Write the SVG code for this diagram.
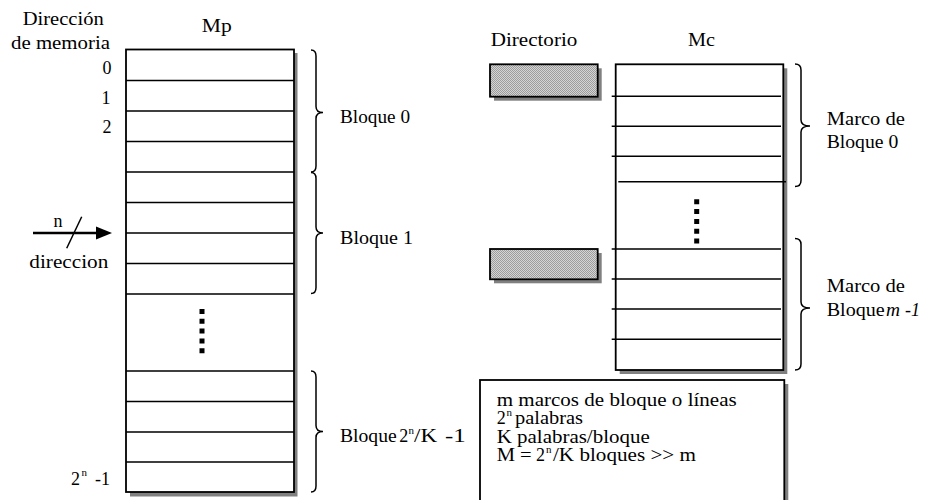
<svg xmlns="http://www.w3.org/2000/svg" width="932" height="500" viewBox="0 0 932 500">
<defs>
<pattern id="hatch" width="2" height="2" patternUnits="userSpaceOnUse">
<rect width="2" height="2" fill="#d4d4d4"/>
<rect width="1" height="1" fill="#9c9c9c"/>
<rect x="1" y="1" width="1" height="1" fill="#9c9c9c"/>
</pattern>
</defs>
<style>
text{font-family:'Liberation Serif','Times New Roman','DejaVu Serif',serif;font-size:18px;fill:#000}
.sup{font-size:11px}
.it{font-style:italic}
.box{fill:#fff;stroke:#000;stroke-width:1.8}
.shadow{fill:#808080;stroke:none}
.row{stroke:#000;stroke-width:1.5;fill:none}
.brace{stroke:#000;stroke-width:1.5;fill:none}
.dots{stroke:#000;stroke-width:5;stroke-dasharray:5 4.8;fill:none}
.dir{fill:url(#hatch);stroke:#000;stroke-width:1.8}
</style>
<rect width="932" height="500" fill="#fff"/>

<g id="addr-labels">
<text x="22.7" y="25" textLength="81" lengthAdjust="spacingAndGlyphs">Dirección</text>
<text x="11" y="49" textLength="99" lengthAdjust="spacingAndGlyphs">de memoria</text>
<text x="111.5" y="74" text-anchor="end">0</text>
<text x="110.5" y="103.5" text-anchor="end">1</text>
<text x="111.5" y="133" text-anchor="end">2</text>
<text y="484.5"><tspan x="71">2</tspan><tspan class="sup" x="81.5" y="476">n</tspan><tspan x="95" y="484.5" textLength="15" lengthAdjust="spacingAndGlyphs">-1</tspan></text>
</g>

<g id="mp">
<rect class="shadow" x="130" y="53" width="167.5" height="443.5"/>
<rect class="box" x="126" y="49.5" width="168" height="442.5"/>
<path class="row" d="M126 80.5H294M126 111H294M126 141.5H294M126 172H294M126 202.5H294M126 233H294M126 263.5H294M126 294H294M126 371H294M126 401.5H294M126 432H294M126 462H294"/>
<path class="dots" d="M202 309V354"/>
<text x="201.7" y="32" textLength="30" lengthAdjust="spacingAndGlyphs">Mp</text>
</g>

<g id="mp-blocks">
<path class="brace" d="M311 50Q316 50 316 56L316 106.5Q316 112.5 323 112.5Q316 112.5 316 118.5L316 166Q316 172 311 172"/>
<path class="brace" d="M311 172.5Q316 172.5 316 178.5L316 227Q316 233 323 233Q316 233 316 239L316 287.5Q316 293.5 311 293.5"/>
<path class="brace" d="M311 371Q316 371 316 377L316 425.5Q316 431.5 323 431.5Q316 431.5 316 437.5L316 486Q316 492 311 492"/>
<text x="340" y="123" textLength="70" lengthAdjust="spacingAndGlyphs">Bloque 0</text>
<text x="340" y="243.5" textLength="73" lengthAdjust="spacingAndGlyphs">Bloque 1</text>
<text y="442"><tspan x="340" textLength="56.7" lengthAdjust="spacingAndGlyphs">Bloque</tspan><tspan x="399.3">2</tspan><tspan class="sup" x="408.5" y="433.5">n</tspan><tspan x="414" y="442" textLength="23" lengthAdjust="spacingAndGlyphs">/K</tspan><tspan x="445" textLength="20.7" lengthAdjust="spacingAndGlyphs">-1</tspan></text>
</g>

<g id="connectors">
<line x1="33" y1="233" x2="99" y2="233" stroke="#000" stroke-width="2.5"/>
<polygon points="96,226.5 112,233 96,239.5" fill="#000"/>
<line x1="81.7" y1="216.7" x2="66.7" y2="248.3" stroke="#000" stroke-width="1.5"/>
<text x="53.5" y="226.5">n</text>
<text x="29.3" y="268.3" textLength="79" lengthAdjust="spacingAndGlyphs">direccion</text>
</g>

<g id="directorio">
<text x="490.7" y="45.7" textLength="86.6" lengthAdjust="spacingAndGlyphs">Directorio</text>
<g id="dir-0">
<rect class="shadow" x="494" y="68.3" width="107.7" height="32.4"/>
<rect class="dir" x="490" y="64.3" width="107.7" height="32.4"/>
</g>
<g id="dir-m1">
<rect class="shadow" x="494" y="253" width="107.7" height="30.3"/>
<rect class="dir" x="490" y="249" width="107.7" height="30.3"/>
</g>
</g>

<g id="mc">
<rect class="shadow" x="619.7" y="68.3" width="167.6" height="305.7"/>
<rect class="box" x="615.7" y="64.3" width="167.6" height="305.7"/>
<path class="row" d="M611.7 96.3H781M611.7 126.3H781M611.7 156.3H781M618.3 181.7H786M611.7 249H781M611.7 279H781M611.7 309H781M611.7 339.3H781"/>
<path class="dots" d="M696.7 199.3V243.5"/>
<text x="688" y="45.7" textLength="27" lengthAdjust="spacingAndGlyphs">Mc</text>
</g>

<g id="mc-frames">
<path class="brace" d="M795 64Q801 64 801 70L801 120Q801 126 810 126Q801 126 801 132L801 180.5Q801 186.5 795 186.5"/>
<path class="brace" d="M795 238.5Q801 238.5 801 244.5L801 302Q801 308 810 308Q801 308 801 314L801 364Q801 370 795 370"/>
<text x="826.7" y="124.5" textLength="78.3" lengthAdjust="spacingAndGlyphs">Marco de</text>
<text x="826.7" y="148.3" textLength="71.6" lengthAdjust="spacingAndGlyphs">Bloque 0</text>
<text x="826.7" y="291.5" textLength="78.3" lengthAdjust="spacingAndGlyphs">Marco de</text>
<text y="315.5"><tspan x="826.7" textLength="58" lengthAdjust="spacingAndGlyphs">Bloque</tspan><tspan class="it" x="886" textLength="14" lengthAdjust="spacingAndGlyphs">m</tspan><tspan class="it" x="905" textLength="15" lengthAdjust="spacingAndGlyphs">-1</tspan></text>
</g>

<g id="info">
<rect class="shadow" x="484" y="384" width="304.3" height="130"/>
<rect class="box" x="480" y="380" width="304.3" height="130"/>
<text x="496.7" y="405.5" textLength="240" lengthAdjust="spacingAndGlyphs">m marcos de bloque o líneas</text>
<text y="424"><tspan x="496.7">2</tspan><tspan class="sup" x="506.5" y="416">n</tspan><tspan x="515" y="424" textLength="68" lengthAdjust="spacingAndGlyphs">palabras</tspan></text>
<text x="496.7" y="442.5" textLength="153" lengthAdjust="spacingAndGlyphs">K palabras/bloque</text>
<text y="461"><tspan x="496.7" textLength="35" lengthAdjust="spacingAndGlyphs">M =</tspan><tspan x="536">2</tspan><tspan class="sup" x="546" y="453">n</tspan><tspan x="553" y="461" textLength="143" lengthAdjust="spacingAndGlyphs">/K bloques &gt;&gt; m</tspan></text>
</g>
</svg>
